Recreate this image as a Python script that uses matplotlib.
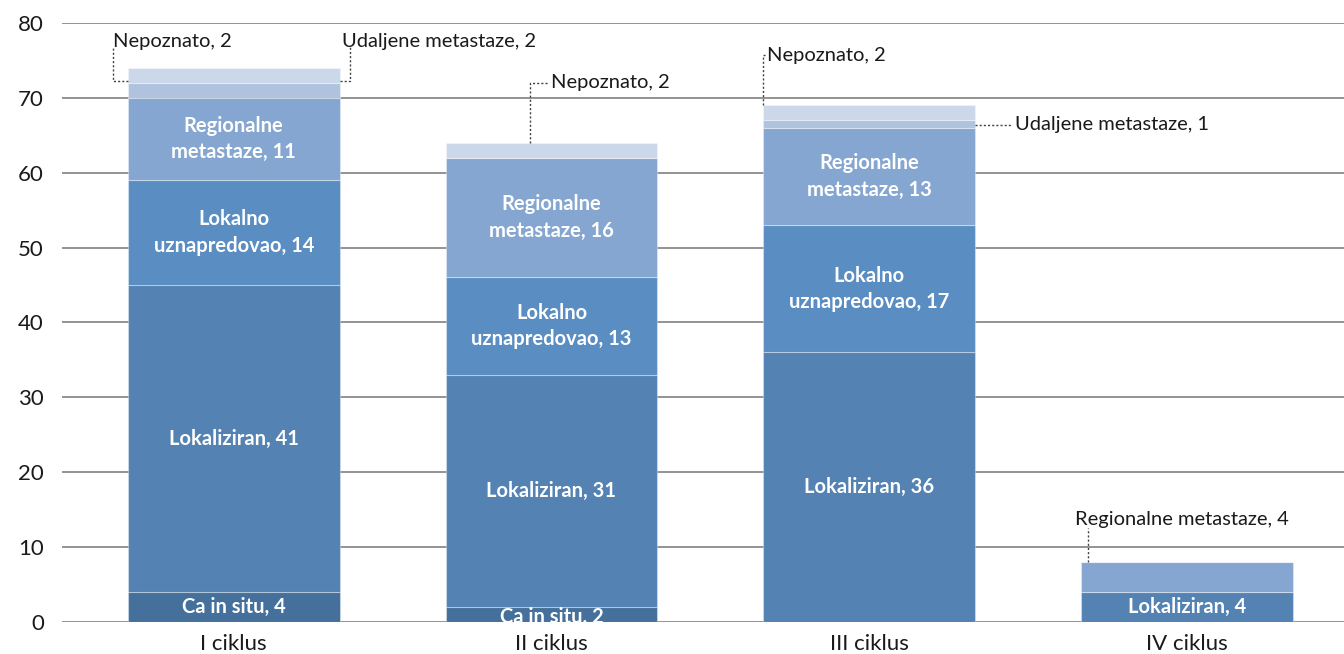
import matplotlib
matplotlib.use("Agg")
import matplotlib.pyplot as plt
import numpy as np

plt.rcParams['font.family'] = ['Lato', 'DejaVu Sans']

categories = ["I ciklus", "II ciklus", "III ciklus", "IV ciklus"]
series_names = ["Ca in situ", "Lokaliziran", "Lokalno uznapredovao",
                "Regionalne metastaze", "Udaljene metastaze", "Nepoznato"]
ca_in_situ = [4, 2, 0, 0]
lokaliziran = [41, 31, 36, 4]
lokalno = [14, 13, 17, 0]
regionalne = [11, 16, 13, 4]
udaljene = [2, 0, 1, 0]
nepoznato = [2, 2, 2, 0]
yticks = [0, 10, 20, 30, 40, 50, 60, 70, 80]

series = [ca_in_situ, lokaliziran, lokalno, regionalne, udaljene, nepoznato]
colors = ["#44709B", "#5382B3", "#5A8DC1", "#84A6D0", "#AFC3DE", "#CBD8E9"]
inner_text = ["Ca in situ, {}", "Lokaliziran, {}", "Lokalno\nuznapredovao, {}",
              "Regionalne\nmetastaze, {}", None, None]

fig = plt.figure(figsize=(13.44, 6.54), dpi=100)
ax = fig.add_axes([0.046, 0.049, 0.954, 0.916])

x = np.arange(len(categories))
width = 0.667
bottom = np.zeros(len(categories))
for vals, col, txt in zip(series, colors, inner_text):
    vals = np.array(vals, dtype=float)
    ax.bar(x, vals, width, bottom=bottom, color=col,
           edgecolor=(1, 1, 1, 0.35), linewidth=0.8, zorder=3)
    if txt is not None:
        for i, v in enumerate(vals):
            if v <= 0:
                continue
            if txt.startswith("Regionalne") and i == 3:
                continue
            yc = bottom[i] + v / 2
            if txt.startswith("Ca") and i == 1:
                yc = bottom[i] + v / 2 - 0.4
            ax.text(x[i], yc, txt.format(int(v)), ha="center", va="center",
                    color="white", fontsize=14.5, fontweight="bold", zorder=5,
                    linespacing=1.4)
    bottom += vals

totals = bottom
lead = dict(color="#404040", linestyle=(0, (1.5, 1.5)), linewidth=1, zorder=4)
ann = dict(fontsize=14.5, color="#1a1a1a", zorder=5)

# I ciklus - Nepoznato
y_n1 = totals[0] - nepoznato[0] / 2 - 0.8
ax.plot([-width / 2, -0.381, -0.381], [y_n1, y_n1, 76.9], **lead)
ax.text(-0.381, 76.4, "Nepoznato, {}".format(nepoznato[0]), ha="left", va="bottom", **ann)
# I ciklus - Udaljene
ax.plot([width / 2, 0.366, 0.366], [y_n1, y_n1, 76.9], **lead)
ax.text(0.342, 76.4, "Udaljene metastaze, {}".format(udaljene[0]), ha="left", va="bottom", **ann)
# II ciklus - Nepoznato
ax.plot([0.931, 0.931, 0.99], [totals[1], 72.0, 72.0], **lead)
ax.text(0.997, 72.0, "Nepoznato, {}".format(nepoznato[1]), ha="left", va="center", **ann)
# III ciklus - Nepoznato
ax.plot([2 - width / 2, 2 - width / 2, 1.676], [totals[2], 75.7, 75.7], **lead)
ax.text(1.679, 75.7, "Nepoznato, {}".format(nepoznato[2]), ha="left", va="center", **ann)
# III ciklus - Udaljene
y_u3 = totals[2] - nepoznato[2] - udaljene[2] / 2 - 0.1
ax.plot([2 + width / 2, 2.45], [y_u3, y_u3], **lead)
ax.text(2.458, y_u3, "Udaljene metastaze, {}".format(udaljene[2]), ha="left", va="center", **ann)
# IV ciklus - Regionalne
ax.plot([2.688, 2.688], [totals[3], 12.6], **lead)
ax.text(2.647, 12.5, "Regionalne metastaze, {}".format(regionalne[3]), ha="left", va="bottom", **ann)

ax.set_xlim(-0.541, 3.494)
ax.set_ylim(0, 80)
ax.set_yticks(yticks)
ax.set_xticks(x)
ax.set_xticklabels(categories)
ax.tick_params(axis="both", length=0, labelsize=16, colors="#1a1a1a")
ax.tick_params(axis="y", pad=13)
ax.tick_params(axis="x", pad=9)
ax.grid(axis="y", color="#808080", linewidth=1.2, zorder=0)
ax.set_axisbelow(True)
for s in ax.spines.values():
    s.set_visible(False)

fig.savefig("out.png", dpi=100)
